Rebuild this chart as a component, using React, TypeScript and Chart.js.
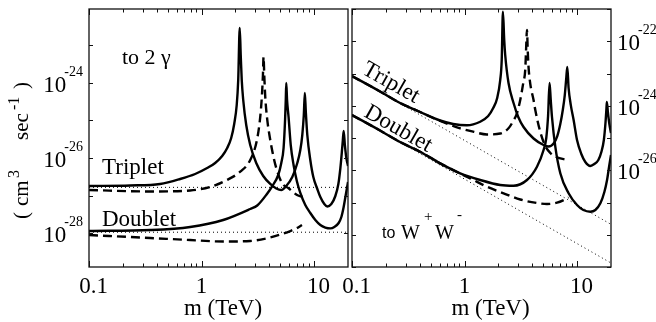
import React, { useEffect, useRef } from "react";
import { Chart, registerables } from "chart.js";
Chart.register(...registerables);

const SERIF = '"Liberation Serif", "Times New Roman", serif';
const SANS = '"Liberation Sans", Arial, sans-serif';

// ---- axes ----
const X_MIN = 0.1;
const X_MAX = 20;
const X_TICK_VALUES = [0.1, 1, 10];
const X_TICK_LABELS = ["0.1", "1", "10"];
const X_TITLE = "m (TeV)";

const GAM_Y_MIN = 1.24e-29;
const GAM_Y_MAX = 9.4e-23;
const GAM_Y_LABEL_EXP = [-24, -26, -28];

const WW_Y_MIN = 1e-29;
const WW_Y_MAX = 1e-21;
const WW_Y_LABEL_EXP = [-22, -24, -26];

// ---- left panel: to 2 gamma (m in TeV, sigma v in cm^3/s) ----
const gamTripletMass = [0.1, 0.232, 0.428, 0.645, 0.877, 1.121, 1.321, 1.525, 1.69, 1.834, 1.95, 2.053, 2.117, 2.183, 2.228, 2.275, 2.345, 2.494, 2.706, 3.06, 3.532, 4.077, 4.61, 5.108, 5.656, 6.4, 7.09, 7.54, 7.85, 8.1, 8.27, 8.44, 8.7, 9.25, 9.84, 10.68, 11.36, 12.32, 13.1, 14.22, 15.44, 16.42, 17.11, 17.64, 18.0, 18.3, 18.76, 19.34, 20];
const gamTripletSigma = [1.79e-27, 1.85e-27, 2.03e-27, 2.75e-27, 3.74e-27, 5.41e-27, 7.36e-27, 1.13e-26, 1.85e-26, 3.41e-26, 8.07e-26, 2.59e-25, 1.2e-24, 2.93e-23, 5.58e-24, 1.2e-24, 3.52e-25, 7.59e-26, 2.22e-26, 7.36e-27, 3.31e-27, 2.03e-27, 1.54e-27, 1.4e-27, 1.79e-27, 3.11e-27, 7.36e-27, 1.63e-26, 4.1e-26, 1.4e-25, 5.41e-25, 1.69e-25, 4.1e-26, 8.85e-27, 3.11e-27, 1.49e-27, 9.12e-28, 5.93e-28, 5.09e-28, 5.93e-28, 9.7e-28, 2.03e-27, 5.41e-27, 1.45e-26, 3.02e-26, 5.25e-26, 2.22e-26, 1.0e-26, 6.12e-27];

const gamDoubletMass = [0.1, 0.349, 0.792, 1.556, 2.706, 3.124, 3.81, 4.25, 4.8, 5.108, 5.355, 5.52, 5.6, 5.656, 5.75, 5.93, 6.2, 6.57, 7.02, 7.54, 8.35, 9.25, 10.25, 11.36, 12.58, 13.94, 15.12, 16.52, 17.46, 18.3, 19.03, 20];
const gamDoubletSigma = [1.13e-28, 1.2e-28, 1.45e-28, 2.22e-28, 4.37e-28, 5.41e-28, 1.1e-27, 1.79e-27, 3.52e-27, 7.36e-27, 1.85e-26, 1.03e-25, 3.52e-25, 1.0e-24, 3.52e-25, 1.24e-25, 2.22e-26, 6.5e-27, 2.44e-27, 1.17e-27, 5.58e-28, 3.41e-28, 2.22e-28, 1.63e-28, 1.4e-28, 1.33e-28, 1.45e-28, 1.85e-28, 2.67e-28, 4.93e-28, 9.7e-28, 2.29e-27];

const gamTripletDashMass = [0.1, 0.349, 0.792, 1.193, 1.68, 2.205, 2.706, 3.105, 3.322, 3.44, 3.51, 3.554, 3.606, 3.68, 3.81, 4.077, 4.36, 4.61, 5.18, 5.93, 7.05, 8.35];
const gamTripletDashSigma = [1.4e-27, 1.28e-27, 1.36e-27, 1.69e-27, 2.59e-27, 4.31e-27, 8.85e-27, 3.02e-26, 1.24e-25, 4.79e-25, 1.63e-24, 4.93e-24, 1.63e-24, 4.31e-25, 1.24e-25, 3.02e-26, 1.06e-26, 5.41e-27, 2.15e-27, 1.56e-27, 1.03e-27, 8.73e-28];

const gamDoubletDashMass = [0.1, 0.349, 0.792, 1.556, 2.706, 4.077, 5.005, 6.14, 6.94, 7.8];
const gamDoubletDashSigma = [8.85e-29, 7.36e-29, 6.5e-29, 5.93e-29, 6.12e-29, 7.59e-29, 9.12e-29, 1.13e-28, 1.32e-28, 1.63e-28];

const gamTreeMass = [0.1, 20];
const gamTripletTree = [1.65e-27, 1.65e-27];
const gamDoubletTree = [1.05e-28, 1.05e-28];

// ---- right panel: to W+W- ----
const wwTripletMass = [0.1, 0.1775, 0.2673, 0.4027, 0.6066, 0.792, 1.048, 1.377, 1.622, 1.797, 1.95, 2.074, 2.139, 2.192, 2.251, 2.297, 2.458, 2.724, 3.0, 3.342, 4.102, 5.035, 5.578, 6.18, 6.665, 7.09, 7.46, 7.77, 8.01, 8.18, 8.4, 8.79, 9.31, 9.98, 10.9, 11.83, 13.1, 14.22, 15.44, 16.42, 17.28, 17.89, 18.23, 18.37, 18.76, 19.34, 20];
const wwTripletSigma = [8.36e-24, 2.77e-24, 1.22e-24, 6.4e-25, 3.49e-25, 2.72e-25, 2.48e-25, 3.2e-25, 4.81e-25, 8.51e-25, 1.74e-24, 6.28e-24, 2.62e-23, 8.24e-22, 1.09e-22, 3.75e-23, 5.07e-24, 1.22e-24, 4.48e-25, 2.19e-25, 9.64e-26, 6.07e-26, 5.45e-26, 6.75e-26, 1.15e-25, 2.72e-25, 7.38e-25, 2.15e-24, 7.24e-24, 1.59e-23, 3.55e-24, 1.05e-24, 3.61e-25, 8.67e-26, 3.19e-26, 1.8e-26, 1.36e-26, 1.56e-26, 2.08e-26, 3.68e-26, 8.67e-26, 3.13e-25, 8.51e-25, 1.31e-24, 6.4e-25, 2.72e-25, 1.43e-25];

const wwDoubletMass = [0.1, 0.1775, 0.2673, 0.4027, 0.6066, 0.914, 1.377, 2.074, 2.724, 3.584, 4.4, 5.035, 5.32, 5.52, 5.69, 5.83, 5.98, 6.4, 7.09, 8.4, 9.98, 11.36, 13.1, 14.52, 16.09, 17.46, 18.45, 19.34, 20];
const wwDoubletSigma = [5.16e-25, 1.71e-25, 7.52e-26, 3.76e-26, 1.64e-26, 8.04e-27, 4.99e-27, 3.49e-27, 3.32e-27, 4.99e-27, 1.29e-26, 4.25e-26, 1.0e-25, 4.81e-25, 5.07e-24, 1.51e-24, 4.48e-25, 5.37e-26, 8.04e-27, 1.93e-27, 8.36e-28, 5.85e-28, 5.19e-28, 5.85e-28, 9.44e-28, 2.12e-27, 4.99e-27, 1.46e-26, 2.97e-26];

const wwTripletDashMass = [0.1, 0.1775, 0.2673, 0.4027, 0.6066, 0.914, 1.193, 1.579, 2.074, 2.458, 2.706, 2.92, 3.124, 3.322, 3.46, 3.52, 3.584, 3.64, 3.7, 3.83, 4.102, 4.25, 4.71, 5.21, 5.78, 6.53, 8.18];
const wwTripletDashSigma = [8.36e-24, 2.77e-24, 1.22e-24, 6.4e-25, 3.37e-25, 2.0e-25, 1.57e-25, 1.29e-25, 1.38e-25, 2.0e-25, 3.37e-25, 5.83e-25, 1.51e-24, 5.07e-24, 1.29e-23, 5.36e-23, 2.23e-22, 5.36e-23, 1.63e-23, 4.97e-24, 1.51e-24, 7.38e-25, 1.53e-25, 5.65e-26, 3.43e-26, 2.58e-26, 2.08e-26];

const wwDoubletDashMass = [0.1, 0.1775, 0.2673, 0.4027, 0.6066, 0.914, 1.121, 1.579, 2.22, 3.124, 4.4, 5.4, 6.63, 7.85, 8.4];
const wwDoubletDashSigma = [5.16e-25, 1.71e-25, 7.52e-26, 3.76e-26, 1.64e-26, 7.92e-27, 5.62e-27, 3.09e-27, 1.93e-27, 1.24e-27, 9.64e-28, 8.97e-28, 9.86e-28, 1.26e-27, 1.43e-27];

const wwTreeMass = [0.1, 20];
const wwTripletTree = [8.4e-24, 2.1e-28];
const wwDoubletTree = [5.3e-25, 1.33e-29];

// ---- helpers ----
function pts(ms: number[], ss: number[]) {
  return ms.map((m, i) => ({ x: m, y: ss[i] }));
}
function solid(ms: number[], ss: number[]) {
  return { data: pts(ms, ss), borderColor: "#000", borderWidth: 2.4, pointRadius: 0, fill: false,
    cubicInterpolationMode: "monotone", borderJoinStyle: "round", order: 0 };
}
function dashed(ms: number[], ss: number[]) {
  return { data: pts(ms, ss), borderColor: "#000", borderWidth: 2.4, borderDash: [9, 5], pointRadius: 0,
    fill: false, cubicInterpolationMode: "monotone", borderJoinStyle: "round", order: 1 };
}
function dotted(ms: number[], ss: number[]) {
  return { data: pts(ms, ss), borderColor: "#000", borderWidth: 1, borderDash: [1, 3], pointRadius: 0,
    fill: false, order: 2 };
}

type Decor = {
  ySide: "left" | "right";
  yLabelX: number;
  yExps: number[];
  xTitleX: number;
  extra: (ctx: CanvasRenderingContext2D) => void;
};

function decorPlugin(d: Decor) {
  return {
    id: "decor",
    afterDraw(chart: any) {
      const ctx: CanvasRenderingContext2D = chart.ctx;
      const a = chart.chartArea;
      const xs = chart.scales.x;
      const ys = chart.scales.y;
      ctx.save();
      ctx.strokeStyle = "#111";
      ctx.lineWidth = 1.3;
      ctx.strokeRect(a.left, a.top, a.right - a.left, a.bottom - a.top);
      ctx.lineWidth = 1;
      ctx.beginPath();
      for (let e = -1; e <= 1; e++) {
        for (let k = 1; k <= 9; k++) {
          const v = k * Math.pow(10, e);
          if (v < X_MIN * 0.999 || v > X_MAX * 0.999) continue;
          const px = Math.round(xs.getPixelForValue(v)) + 0.5;
          const len = k === 1 ? 6 : 3.5;
          ctx.moveTo(px, a.bottom);
          ctx.lineTo(px, a.bottom - len);
          ctx.moveTo(px, a.top);
          ctx.lineTo(px, a.top + len);
        }
      }
      const lo = Math.ceil(Math.log10(ys.min) - 1e-9);
      const hi = Math.floor(Math.log10(ys.max) + 1e-9);
      for (let e = lo; e <= hi; e++) {
        const py = Math.round(ys.getPixelForValue(Math.pow(10, e))) + 0.5;
        ctx.moveTo(a.left, py);
        ctx.lineTo(a.left + 4, py);
        ctx.moveTo(a.right, py);
        ctx.lineTo(a.right - 4, py);
      }
      ctx.stroke();

      ctx.fillStyle = "#000";
      ctx.textBaseline = "alphabetic";
      ctx.font = `23px ${SERIF}`;
      ctx.textAlign = "center";
      X_TICK_VALUES.forEach((v, i) => {
        const lab = X_TICK_LABELS[i];
        const px = xs.getPixelForValue(v) + (lab === "1" ? 0 : 4.5);
        ctx.fillText(lab, px, 293);
      });
      ctx.fillText(X_TITLE, d.xTitleX, 315);

      ctx.textAlign = "left";
      d.yExps.forEach((e) => {
        const py = ys.getPixelForValue(Math.pow(10, e));
        const exp = String(e);
        ctx.font = `23px ${SERIF}`;
        const w10 = ctx.measureText("10").width - 2;
        ctx.font = `14px ${SERIF}`;
        const we = ctx.measureText(exp).width;
        const x0 = d.ySide === "left" ? d.yLabelX - w10 - we : d.yLabelX;
        ctx.font = `23px ${SERIF}`;
        ctx.fillText("10", x0, py + 9);
        ctx.font = `14px ${SERIF}`;
        ctx.fillText(exp, x0 + w10, py - 7);
      });

      d.extra(ctx);
      ctx.restore();
    },
  };
}

function build(canvas: HTMLCanvasElement, datasets: any[], yMin: number, yMax: number, padding: any, d: Decor) {
  return new Chart(canvas, {
    type: "line",
    data: { datasets },
    options: {
      responsive: false,
      animation: false,
      devicePixelRatio: 1,
      events: [],
      layout: { padding },
      plugins: { legend: { display: false }, tooltip: { enabled: false } },
      scales: {
        x: { type: "logarithmic", min: X_MIN, max: X_MAX, display: false },
        y: { type: "logarithmic", min: yMin, max: yMax, display: false },
      },
    } as any,
    plugins: [decorPlugin(d)],
  } as any);
}

export default function App() {
  const leftRef = useRef<HTMLCanvasElement>(null);
  const rightRef = useRef<HTMLCanvasElement>(null);

  useEffect(() => {
    const left = build(
      leftRef.current!,
      [
        solid(gamTripletMass, gamTripletSigma),
        solid(gamDoubletMass, gamDoubletSigma),
        dashed(gamTripletDashMass, gamTripletDashSigma),
        dashed(gamDoubletDashMass, gamDoubletDashSigma),
        dotted(gamTreeMass, gamTripletTree),
        dotted(gamTreeMass, gamDoubletTree),
      ],
      GAM_Y_MIN,
      GAM_Y_MAX,
      { left: 89, right: 2, top: 9, bottom: 55 },
      {
        ySide: "left",
        yLabelX: 83,
        yExps: GAM_Y_LABEL_EXP,
        xTitleX: 223,
        extra: (ctx) => {
          ctx.textAlign = "left";
          ctx.font = `22px ${SERIF}`;
          ctx.fillText("to 2 \u03b3", 122, 64);
          ctx.font = `23px ${SERIF}`;
          ctx.fillText("Triplet", 102, 174);
          ctx.fillText("Doublet", 102, 226);
          // y axis title
          ctx.save();
          ctx.translate(28, 219);
          ctx.rotate(-Math.PI / 2);
          ctx.font = `21px ${SERIF}`;
          ctx.fillText("(", 0, 0);
          ctx.fillText("cm", 13, 0);
          ctx.font = `16px ${SERIF}`;
          ctx.fillText("3", 41, -9);
          ctx.font = `21px ${SERIF}`;
          ctx.fillText("sec", 79, 0);
          ctx.font = `16px ${SERIF}`;
          ctx.fillText("-1", 109, -9);
          ctx.font = `21px ${SERIF}`;
          ctx.fillText(")", 130, 0);
          ctx.restore();
        },
      }
    );

    const right = build(
      rightRef.current!,
      [
        solid(wwTripletMass, wwTripletSigma),
        solid(wwDoubletMass, wwDoubletSigma),
        dashed(wwTripletDashMass, wwTripletDashSigma),
        dashed(wwDoubletDashMass, wwDoubletDashSigma),
        dotted(wwTreeMass, wwTripletTree),
        dotted(wwTreeMass, wwDoubletTree),
      ],
      WW_Y_MIN,
      WW_Y_MAX,
      { left: 32, right: 45, top: 9, bottom: 55 },
      {
        ySide: "right",
        yLabelX: 297,
        yExps: WW_Y_LABEL_EXP,
        xTitleX: 170.5,
        extra: (ctx) => {
          ctx.textAlign = "left";
          const ang = (29.5 * Math.PI) / 180;
          ctx.font = `23px ${SERIF}`;
          ctx.save();
          ctx.translate(41, 73);
          ctx.rotate(ang);
          ctx.fillText("Triplet", 0, 0);
          ctx.restore();
          ctx.save();
          ctx.translate(43, 116);
          ctx.rotate(ang);
          ctx.fillText("Doublet", 0, 0);
          ctx.restore();
          ctx.font = `16px ${SANS}`;
          ctx.fillText("to", 62, 238);
          ctx.font = `20px ${SERIF}`;
          ctx.fillText("W", 81, 239);
          ctx.fillText("W", 115, 239);
          ctx.font = `15px ${SERIF}`;
          ctx.fillText("+", 104, 221);
          ctx.fillText("-", 137, 219);
        },
      }
    );

    return () => {
      left.destroy();
      right.destroy();
    };
  }, []);

  return (
    <div style={{ position: "absolute", left: 0, top: 0, width: 656, height: 322, background: "#fff", overflow: "hidden" }}>
      <canvas ref={leftRef} width={350} height={322} style={{ position: "absolute", left: 0, top: 0 }} />
      <canvas ref={rightRef} width={336} height={322} style={{ position: "absolute", left: 320, top: 0 }} />
    </div>
  );
}
